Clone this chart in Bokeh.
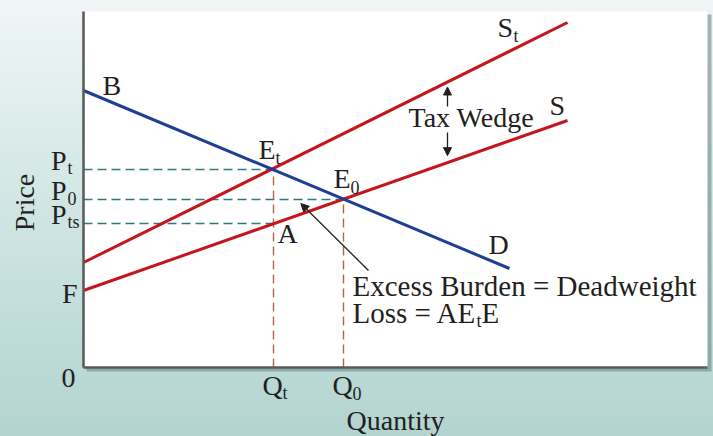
from bokeh.plotting import figure
from bokeh.models import Range1d, Label, Arrow, NormalHead, FixedTicker, LinearAxis
from bokeh.embed import file_html
from bokeh.resources import INLINE
import numpy as np

# ---- data (schematic units) ----
demand_q = [0, 426]
demand_p = [277, 99]
supply_q = [0, 484]
supply_p = [77, 247]
taxsupply_q = [0, 484]
taxsupply_p = [105, 345]
Q_t, Q_0 = 190, 260
P_t, P_0, P_ts = 198, 168, 144
F_int = 77
wedge_q = 364
Q_max, P_max = 624, 356

RED = "#c4161c"
BLUE = "#1f3f96"
TEAL = "#2b7d7b"
BROWN = "#b5654a"
INK = "#231f20"
FONT = "Liberation Serif"
BIG = 28
NOTE = 29
SUB = 18

p = figure(width=713, height=436, x_range=Range1d(-83, 630), y_range=Range1d(-69, 367),
           output_backend="svg", toolbar_location=None,
           x_axis_location=None, y_axis_location=None,
           min_border_left=0, min_border_right=0, min_border_top=0, min_border_bottom=0)
p.styles = {"background": "linear-gradient(180deg, #f0f6f5 0%, #d6e9e7 38%, #c3dedc 70%, #b3d3d1 100%)"}
p.border_fill_color = None
p.background_fill_color = None
p.outline_line_color = None
p.grid.visible = False

# plotting panel (shadow + white box)
p.quad(left=3, right=Q_max + 4, bottom=-4, top=P_max - 3, fill_color="#6f8a89", fill_alpha=0.6, line_color=None)
p.quad(left=0, right=Q_max, bottom=0, top=P_max, fill_color="white", line_color=None)

for loc, bnds in (("below", (0, Q_max)), ("left", (0, P_max))):
    ax = LinearAxis(fixed_location=0, bounds=bnds, ticker=FixedTicker(ticks=[]),
                    axis_line_color="#58585a", axis_line_width=2.5,
                    major_tick_line_color=None, minor_tick_line_color=None,
                    major_tick_out=0, minor_tick_out=0, major_label_standoff=0,
                    major_label_text_font_size="0px")
    p.add_layout(ax, loc)

# dashed guide lines
for q, pr in ((Q_t, P_t), (Q_0, P_0), (Q_t, P_ts)):
    p.line([0, q], [pr, pr], line_color=TEAL, line_width=1.4, line_dash="9 5")
for q, pr in ((Q_t, P_t), (Q_0, P_0)):
    p.line([q, q], [0, pr], line_color=BROWN, line_width=1.4, line_dash="9 5")

# curves
p.line(taxsupply_q, taxsupply_p, line_color=RED, line_width=3)
p.line(supply_q, supply_p, line_color=RED, line_width=3)
p.line(demand_q, demand_p, line_color=BLUE, line_width=3)


def txt(x, y, s, size=BIG, align="left", baseline="alphabetic", angle=0):
    dy = 0.36 * size if baseline == "alphabetic" else 0
    p.add_layout(Label(x=x, y=y + dy, text=s, text_font=FONT, text_font_size=f"{size}px",
                       text_color=INK, text_align=align, text_baseline=baseline, angle=angle))


# curve labels
txt(19, 272, "B")
txt(175, P_t + 10, "E"); txt(192, P_t + 5, "t", SUB)
txt(250, P_0 + 11, "E"); txt(267, P_0 + 6, "0", SUB)
txt(Q_t + 4, P_ts - 20, "A")
txt(405, 113, "D")
txt(466, 252, "S")
txt(414, 330, "S"); txt(430, 325, "t", SUB)
txt(325, 240, "Tax Wedge")
txt(269, 71, "Excess Burden = Deadweight", NOTE)
txt(269, 44, "Loss = AE", NOTE)
txt(393, 40, "t", SUB)
txt(398, 44, "E", NOTE)

# axis tick-style labels
txt(-8, -21, "0", align="right")
txt(-6, F_int - 13, "F", align="right")
for pv, sub in ((P_t, "t"), (P_0, "0"), (P_ts, "ts")):
    txt(-17, pv - 1, "P", align="right")
    txt(-16, pv - 5, sub, SUB)
for qv, sub in ((Q_t, "t"), (Q_0, "0")):
    txt(qv - 11, -28, "Q")
    txt(qv + 9, -32, sub, SUB)
txt(312, -63, "Quantity", align="center")
txt(-59, 165, "Price", align="center", baseline="middle", angle=np.pi / 2)

# arrows
st_w = float(np.interp(wedge_q, taxsupply_q, taxsupply_p))
s_w = float(np.interp(wedge_q, supply_q, supply_p))
head = dict(size=8, fill_color=INK, line_color=INK)
p.add_layout(Arrow(end=NormalHead(**head), x_start=wedge_q, y_start=261, x_end=wedge_q, y_end=st_w - 5,
                   line_color=INK, line_width=1.3))
p.add_layout(Arrow(end=NormalHead(**head), x_start=wedge_q, y_start=235, x_end=wedge_q, y_end=s_w + 7,
                   line_color=INK, line_width=1.3))
cx = (Q_t + Q_0 + Q_t) / 3
cy = (P_t + P_0 + P_ts) / 3
p.add_layout(Arrow(end=NormalHead(**head), x_start=285, y_start=97, x_end=cx + 4, y_end=cy - 6,
                   line_color=INK, line_width=1.3))

open("out.html", "w").write(file_html(p, INLINE))
